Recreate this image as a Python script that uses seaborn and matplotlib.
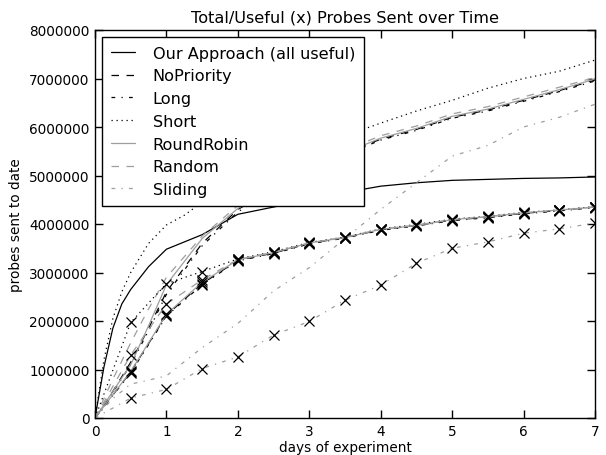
import matplotlib
matplotlib.use("Agg")
import numpy as np
import pandas as pd
import seaborn as sns
import matplotlib.pyplot as plt
from matplotlib.ticker import FuncFormatter, MultipleLocator

# ---- data (millions of probes) ----
days_fast = [0, 0.125, 0.25, 0.375, 0.5, 0.75, 1, 1.25, 1.5, 2, 2.5, 3, 3.5, 4, 4.5, 5, 5.5, 6, 6.5, 7]
our_approach = [0, 1.05, 1.85, 2.35, 2.65, 3.12, 3.48, 3.63, 3.78, 4.2, 4.35, 4.5, 4.65, 4.78, 4.85, 4.9, 4.92, 4.94, 4.95, 4.97]
short_total = [0, 1.2, 2.05, 2.6, 3.0, 3.6, 3.98, 4.18, 4.45, 4.85, 5.25, 5.55, 5.82, 6.08, 6.33, 6.55, 6.8, 7.0, 7.15, 7.38]

days_total = [0, 0.25, 0.5, 0.75, 1, 1.5, 2, 2.5, 3, 3.5, 4, 4.5, 5, 5.5, 6, 6.5, 7]
nopriority_total = [0, 0.55, 1.15, 1.85, 2.6, 3.6, 4.3, 4.72, 5.1, 5.45, 5.75, 5.95, 6.2, 6.35, 6.55, 6.75, 6.97]
long_total = [0, 0.53, 1.1, 1.8, 2.55, 3.55, 4.25, 4.7, 5.08, 5.43, 5.73, 5.93, 6.18, 6.33, 6.53, 6.73, 6.95]
roundrobin_total = [0, 0.55, 1.1, 1.9, 2.75, 3.7, 4.32, 4.74, 5.12, 5.47, 5.77, 5.97, 6.22, 6.37, 6.57, 6.77, 6.99]
random_total = [0, 0.8, 1.55, 2.25, 2.9, 3.75, 4.38, 4.8, 5.17, 5.52, 5.82, 6.02, 6.27, 6.42, 6.62, 6.82, 7.02]
sliding_total = [0, 0.4, 0.7, 0.78, 0.87, 1.45, 1.95, 2.62, 3.1, 3.7, 4.3, 4.85, 5.4, 5.62, 6.0, 6.2, 6.47]

days_useful = [0, 0.5, 1, 1.5, 2, 2.5, 3, 3.5, 4, 4.5, 5, 5.5, 6, 6.5, 7]
nopriority_useful = [0, 0.95, 2.12, 2.77, 3.25, 3.40, 3.60, 3.72, 3.88, 3.97, 4.08, 4.14, 4.22, 4.28, 4.35]
long_useful = [0, 0.93, 2.10, 2.75, 3.24, 3.39, 3.59, 3.71, 3.87, 3.96, 4.07, 4.13, 4.21, 4.27, 4.34]
short_useful = [0, 1.97, 2.77, 3.02, 3.28, 3.43, 3.62, 3.73, 3.90, 3.99, 4.10, 4.16, 4.24, 4.29, 4.36]
roundrobin_useful = [0, 0.96, 2.14, 2.80, 3.26, 3.41, 3.61, 3.72, 3.89, 3.97, 4.09, 4.15, 4.23, 4.29, 4.35]
random_useful = [0, 1.30, 2.35, 2.85, 3.27, 3.42, 3.61, 3.73, 3.89, 3.98, 4.09, 4.15, 4.23, 4.28, 4.35]
sliding_useful = [0, 0.41, 0.59, 1.02, 1.26, 1.71, 1.99, 2.43, 2.74, 3.19, 3.50, 3.63, 3.81, 3.90, 4.02]

labels = ["Our Approach (all useful)", "NoPriority", "Long", "Short",
          "RoundRobin", "Random", "Sliding"]
title = "Total/Useful (x) Probes Sent over Time"
xlabel = "days of experiment"
ylabel = "probes sent to date"

# ---- style ----
sns.set_style("ticks", {"xtick.direction": "in", "ytick.direction": "in",
                        "axes.edgecolor": "black", "text.color": "black",
                        "axes.labelcolor": "black", "xtick.color": "black",
                        "ytick.color": "black"})
plt.rcParams['font.family'] = ['DejaVu Sans']

GRAY = "0.62"
styles = {
    "Our Approach (all useful)": dict(color="black", ls="-"),
    "NoPriority": dict(color="black", ls=(0, (6, 6))),
    "Long": dict(color="black", ls=(0, (3, 5, 1, 5))),
    "Short": dict(color="black", ls=(0, (1, 3))),
    "RoundRobin": dict(color=GRAY, ls="-"),
    "Random": dict(color=GRAY, ls=(0, (6, 6))),
    "Sliding": dict(color=GRAY, ls=(0, (3, 5, 1, 5))),
}

totals = {
    "Our Approach (all useful)": (days_fast, our_approach),
    "NoPriority": (days_total, nopriority_total),
    "Long": (days_total, long_total),
    "Short": (days_fast, short_total),
    "RoundRobin": (days_total, roundrobin_total),
    "Random": (days_total, random_total),
    "Sliding": (days_total, sliding_total),
}
usefuls = {
    "NoPriority": nopriority_useful,
    "Long": long_useful,
    "Short": short_useful,
    "RoundRobin": roundrobin_useful,
    "Random": random_useful,
    "Sliding": sliding_useful,
}

fig = plt.figure(figsize=(6.06, 4.56), dpi=100)
ax = fig.add_axes([95 / 606, 37 / 456, 500 / 606, 388 / 456])

for name in labels:
    xs, ys = totals[name]
    df = pd.DataFrame({"day": xs, "probes": np.array(ys) * 1e6})
    sns.lineplot(data=df, x="day", y="probes", ax=ax, lw=0.9,
                 label=name, legend=False, **styles[name])

for name, vals in usefuls.items():
    df = pd.DataFrame({"day": days_useful, "probes": np.array(vals) * 1e6})
    sns.lineplot(data=df, x="day", y="probes", ax=ax, lw=0.9,
                 label="_nolegend_", legend=False, marker="x", markersize=6.5,
                 markeredgecolor="black", markeredgewidth=0.9,
                 markevery=slice(1, None), **styles[name])

ax.set_xlim(0, 7)
ax.set_ylim(0, 8e6)
ax.xaxis.set_major_locator(MultipleLocator(1))
ax.yaxis.set_major_locator(MultipleLocator(1e6))
ax.yaxis.set_major_formatter(FuncFormatter(lambda v, p: f"{int(round(v))}"))
ax.tick_params(axis="both", which="major", direction="in", length=6, width=1,
               top=True, right=True, labelsize=9.8, color="black",
               labelcolor="black", pad=4)
for s in ax.spines.values():
    s.set_linewidth(1.0)
    s.set_color("black")

ax.set_title(title, fontsize=11.6, pad=6, color="black")
ax.set_xlabel(xlabel, fontsize=9.8, labelpad=2, color="black")
ax.set_ylabel(ylabel, fontsize=9.8, labelpad=4, color="black")

handles, lbls = ax.get_legend_handles_labels()
leg = ax.legend(handles, lbls, loc="upper left", fontsize=11.6, frameon=True,
                fancybox=False, edgecolor="black", framealpha=1,
                handlelength=1.5, handletextpad=1.1, labelspacing=0.48,
                borderpad=0.55, borderaxespad=0.42)
leg.get_frame().set_linewidth(1.0)
for t in leg.get_texts():
    t.set_color("black")

fig.savefig("out.png", dpi=100)
